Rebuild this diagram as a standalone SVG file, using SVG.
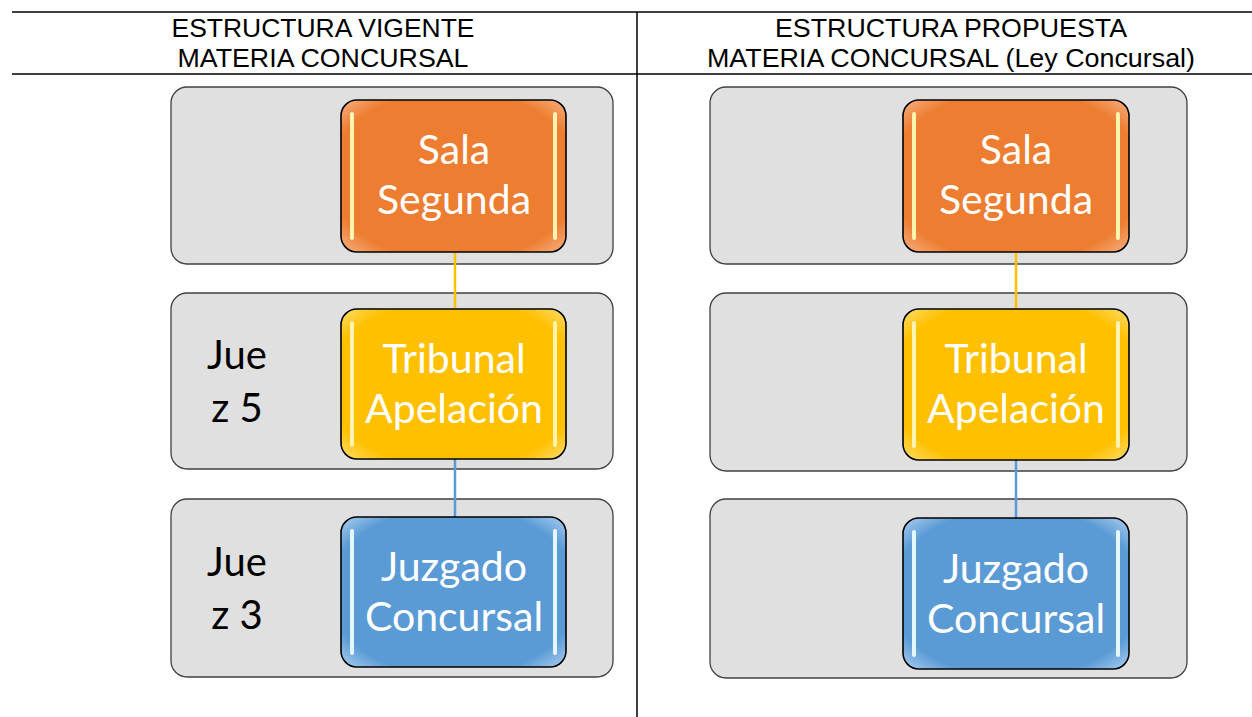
<svg xmlns="http://www.w3.org/2000/svg" width="1252" height="717" viewBox="0 0 1252 717">
<defs>
<style>
.hdr{font-family:"Liberation Sans",Arial,sans-serif;font-size:25px;fill:#000;text-anchor:middle}
.band{fill:#e0e0e0;stroke:#404040;stroke-width:1.3}
.node{stroke:#000;stroke-width:1.6}
.ntxt{font-family:Lato,"Noto Sans",sans-serif;font-size:41px;fill:#fff;text-anchor:middle}
.side{font-family:Lato,"Noto Sans",sans-serif;font-size:40px;fill:#000;text-anchor:middle}
.hl{stroke:#fff3b0;stroke-width:4;stroke-linecap:round}
.hlb{stroke:#e6f6ff;stroke-width:4;stroke-linecap:round}
</style>
<radialGradient id="go" cx="50%" cy="50%" r="70%"><stop offset="80%" stop-color="#ED7D31"/><stop offset="100%" stop-color="#f6b080"/></radialGradient>
<radialGradient id="gy" cx="50%" cy="50%" r="70%"><stop offset="80%" stop-color="#FFC000"/><stop offset="100%" stop-color="#ffdc6a"/></radialGradient>
<radialGradient id="gb" cx="50%" cy="50%" r="70%"><stop offset="80%" stop-color="#5B9BD5"/><stop offset="100%" stop-color="#a8cdf0"/></radialGradient>
</defs>
<rect width="1252" height="717" fill="#fff"/>
<g id="table">
<line x1="12" y1="12" x2="1252" y2="12" stroke="#000" stroke-width="1.5"/>
<line x1="12" y1="74" x2="1252" y2="74" stroke="#000" stroke-width="1.5"/>
<line x1="637" y1="12" x2="637" y2="717" stroke="#000" stroke-width="1.5"/>
<text class="hdr" x="323" y="37" textLength="303" lengthAdjust="spacingAndGlyphs">ESTRUCTURA VIGENTE</text>
<text class="hdr" x="323" y="67" textLength="291" lengthAdjust="spacingAndGlyphs">MATERIA CONCURSAL</text>
<text class="hdr" x="951" y="37" textLength="352" lengthAdjust="spacingAndGlyphs">ESTRUCTURA PROPUESTA</text>
<text class="hdr" x="951" y="67" textLength="488" lengthAdjust="spacingAndGlyphs">MATERIA CONCURSAL (Ley Concursal)</text>
</g>
<g id="bands">
<rect class="band" x="171" y="87" width="442" height="177" rx="16"/>
<rect class="band" x="171" y="293" width="442" height="176" rx="16"/>
<rect class="band" x="171" y="499" width="442" height="178" rx="16"/>
<rect class="band" x="710" y="87" width="477" height="177" rx="16"/>
<rect class="band" x="710" y="293" width="477" height="178" rx="16"/>
<rect class="band" x="710" y="499" width="477" height="179" rx="16"/>
</g>
<g id="connectors">
<line x1="455" y1="252" x2="455" y2="309" stroke="#FFC000" stroke-width="2.5"/>
<line x1="455" y1="459" x2="455" y2="517" stroke="#5B9BD5" stroke-width="2.5"/>
<line x1="1016" y1="252" x2="1016" y2="309" stroke="#FFC000" stroke-width="2.5"/>
<line x1="1016" y1="460" x2="1016" y2="518" stroke="#5B9BD5" stroke-width="2.5"/>
</g>
<g id="sala-izq">
<rect class="node" x="341" y="100" width="225" height="152" rx="16" fill="url(#go)"/>
<line class="hl" x1="352" y1="114" x2="352" y2="238"/>
<line class="hl" x1="555" y1="114" x2="555" y2="238"/>
<text class="ntxt" x="454" y="164">Sala</text>
<text class="ntxt" x="454" y="214">Segunda</text>
</g>
<g id="tribunal-izq">
<rect class="node" x="341" y="309" width="225" height="150" rx="16" fill="url(#gy)"/>
<line class="hl" x1="352" y1="323" x2="352" y2="445"/>
<line class="hl" x1="555" y1="323" x2="555" y2="445"/>
<text class="ntxt" x="454" y="373">Tribunal</text>
<text class="ntxt" x="454" y="423">Apelación</text>
</g>
<g id="juzgado-izq">
<rect class="node" x="341" y="517" width="225" height="150" rx="16" fill="url(#gb)"/>
<line class="hlb" x1="352" y1="531" x2="352" y2="653"/>
<line class="hlb" x1="555" y1="531" x2="555" y2="653"/>
<text class="ntxt" x="454" y="581">Juzgado</text>
<text class="ntxt" x="454" y="631">Concursal</text>
</g>
<g id="jueces5">
<text class="side" x="237" y="369">Jue</text>
<text class="side" x="237" y="422">z 5</text>
</g>
<g id="jueces3">
<text class="side" x="237" y="576">Jue</text>
<text class="side" x="237" y="629">z 3</text>
</g>
<g id="sala-der">
<rect class="node" x="903" y="100" width="226" height="152" rx="16" fill="url(#go)"/>
<line class="hl" x1="914" y1="114" x2="914" y2="238"/>
<line class="hl" x1="1118" y1="114" x2="1118" y2="238"/>
<text class="ntxt" x="1016" y="164">Sala</text>
<text class="ntxt" x="1016" y="214">Segunda</text>
</g>
<g id="tribunal-der">
<rect class="node" x="903" y="309" width="226" height="151" rx="16" fill="url(#gy)"/>
<line class="hl" x1="914" y1="323" x2="914" y2="446"/>
<line class="hl" x1="1118" y1="323" x2="1118" y2="446"/>
<text class="ntxt" x="1016" y="373">Tribunal</text>
<text class="ntxt" x="1016" y="423">Apelación</text>
</g>
<g id="juzgado-der">
<rect class="node" x="903" y="518" width="226" height="151" rx="16" fill="url(#gb)"/>
<line class="hlb" x1="914" y1="532" x2="914" y2="655"/>
<line class="hlb" x1="1118" y1="532" x2="1118" y2="655"/>
<text class="ntxt" x="1016" y="583">Juzgado</text>
<text class="ntxt" x="1016" y="633">Concursal</text>
</g>
</svg>
